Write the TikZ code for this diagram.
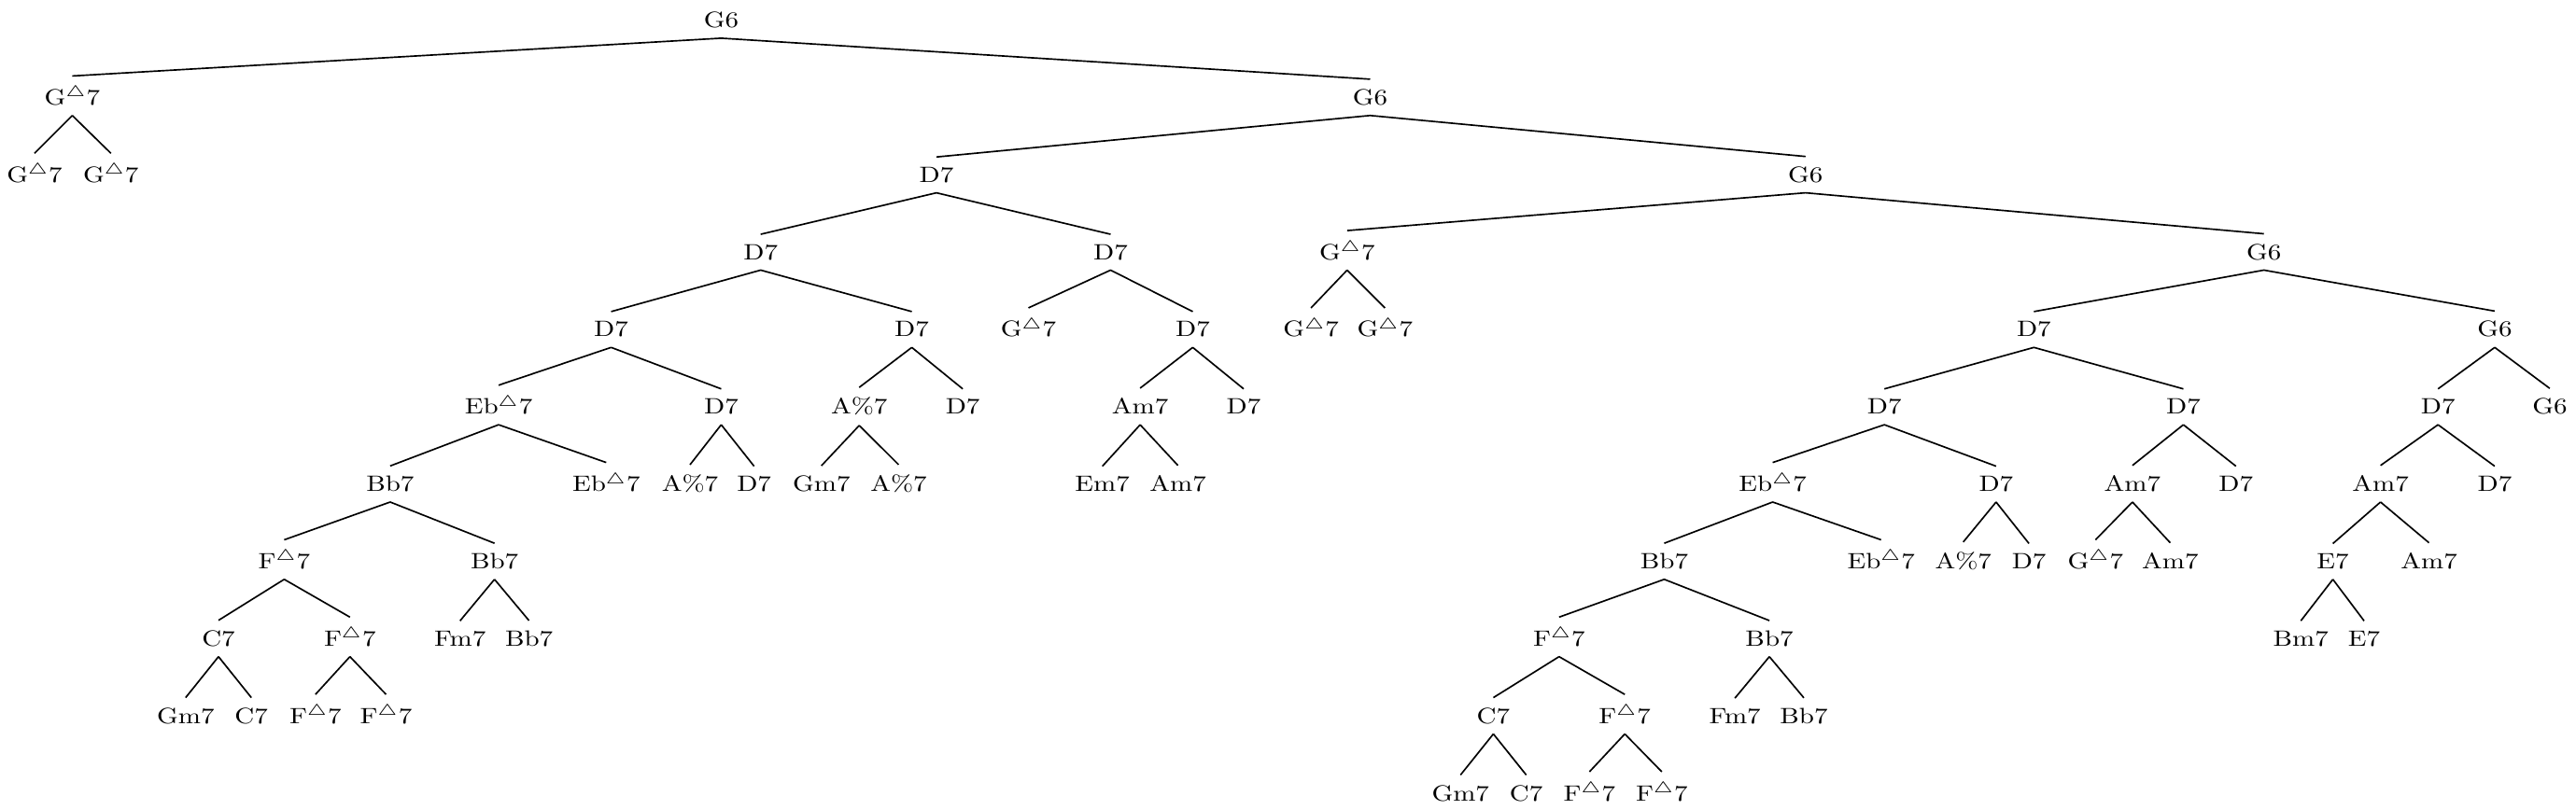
\documentclass[tikz,border=0pt]{standalone}
\usepackage{amsmath}
\usepackage{tikz}

\newcommand{\mtri}{\ensuremath{^{\triangle}}}

\begin{document}
\begin{tikzpicture}[x=0.74pt, y=-34.84pt, line width=0.7pt, every node/.style={anchor=base, xscale=1.22, inner ysep=4.2pt}]

                \useasboundingbox (0,-0.357) rectangle (1568,10.114);

                % Nodes
                \node at (439,0) (c0) {G6};
                \node at (44,1) (c1a) {G\mtri7};
                \node at (834,1) (c1b) {G6};
                \node at (21,2) (c2a) {G\mtri7};
                \node at (67.5,2) (c2b) {G\mtri7};
                \node at (570,2) (c2c) {D7};
                \node at (1099,2) (c2d) {G6};
                \node at (463,3) (c3a) {D7};
                \node at (676,3) (c3b) {D7};
                \node at (820,3) (c3c) {G\mtri7};
                \node at (1378,3) (c3d) {G6};
                \node at (372,4) (c4a) {D7};
                \node at (555,4) (c4b) {D7};
                \node at (626,4) (c4c) {G\mtri7};
                \node at (726,4) (c4d) {D7};
                \node at (798,4) (c4e) {G\mtri7};
                \node at (843,4) (c4f) {G\mtri7};
                \node at (1238,4) (c4g) {D7};
                \node at (1518.5,4) (c4h) {G6};
                \node at (303.5,5) (c5a) {Eb\mtri7};
                \node at (439,5) (c5b) {D7};
                \node at (523,5) (c5c) {A\%7};
                \node at (586,5) (c5d) {D7};
                \node at (694,5) (c5e) {Am7};
                \node at (757,5) (c5f) {D7};
                \node at (1147,5) (c5g) {D7};
                \node at (1329,5) (c5h) {D7};
                \node at (1484,5) (c5i) {D7};
                \node at (1552,5) (c5j) {G6};
                \node at (237.5,6) (c6a) {Bb7};
                \node at (369,6) (c6b) {Eb\mtri7};
                \node at (420,6) (c6c) {A\%7};
                \node at (459,6) (c6d) {D7};
                \node at (500,6) (c6e) {Gm7};
                \node at (547,6) (c6f) {A\%7};
                \node at (671,6) (c6g) {Em7};
                \node at (717,6) (c6h) {Am7};
                \node at (1079,6) (c6i) {Eb\mtri7};
                \node at (1215,6) (c6j) {D7};
                \node at (1298,6) (c6k) {Am7};
                \node at (1361,6) (c6l) {D7};
                \node at (1449,6) (c6m) {Am7};
                \node at (1518.5,6) (c6n) {D7};
                \node at (173,7) (c7a) {F\mtri7};
                \node at (301,7) (c7b) {Bb7};
                \node at (1013,7) (c7c) {Bb7};
                \node at (1145,7) (c7d) {Eb\mtri7};
                \node at (1195,7) (c7e) {A\%7};
                \node at (1235,7) (c7f) {D7};
                \node at (1275.5,7) (c7g) {G\mtri7};
                \node at (1321,7) (c7h) {Am7};
                \node at (1420,7) (c7i) {E7};
                \node at (1478.5,7) (c7j) {Am7};
                \node at (133,8) (c8a) {C7};
                \node at (213,8) (c8b) {F\mtri7};
                \node at (280,8) (c8c) {Fm7};
                \node at (322,8) (c8d) {Bb7};
                \node at (949,8) (c8e) {F\mtri7};
                \node at (1077,8) (c8f) {Bb7};
                \node at (1400.5,8) (c8g) {Bm7};
                \node at (1439,8) (c8h) {E7};
                \node at (113,9) (c9a) {Gm7};
                \node at (153,9) (c9b) {C7};
                \node at (192,9) (c9c) {F\mtri7};
                \node at (235,9) (c9d) {F\mtri7};
                \node at (909,9) (c9e) {C7};
                \node at (989,9) (c9f) {F\mtri7};
                \node at (1056,9) (c9g) {Fm7};
                \node at (1098,9) (c9h) {Bb7};
                \node at (889,10) (c10a) {Gm7};
                \node at (929,10) (c10b) {C7};
                \node at (967.5,10) (c10c) {F\mtri7};
                \node at (1011.5,10) (c10d) {F\mtri7};

                % Edges
                \draw (c0.south) -- (c1a.north) (c0.south) -- (c1b.north);
                \draw (c1a.south) -- (c2a.north) (c1a.south) -- (c2b.north);
                \draw (c1b.south) -- (c2c.north) (c1b.south) -- (c2d.north);
                \draw (c2c.south) -- (c3a.north) (c2c.south) -- (c3b.north);
                \draw (c2d.south) -- (c3c.north) (c2d.south) -- (c3d.north);
                \draw (c3a.south) -- (c4a.north) (c3a.south) -- (c4b.north);
                \draw (c3b.south) -- (c4c.north) (c3b.south) -- (c4d.north);
                \draw (c3c.south) -- (c4e.north) (c3c.south) -- (c4f.north);
                \draw (c3d.south) -- (c4g.north) (c3d.south) -- (c4h.north);
                \draw (c4a.south) -- (c5a.north) (c4a.south) -- (c5b.north);
                \draw (c4b.south) -- (c5c.north) (c4b.south) -- (c5d.north);
                \draw (c4d.south) -- (c5e.north) (c4d.south) -- (c5f.north);
                \draw (c4g.south) -- (c5g.north) (c4g.south) -- (c5h.north);
                \draw (c4h.south) -- (c5i.north) (c4h.south) -- (c5j.north);
                \draw (c5a.south) -- (c6a.north) (c5a.south) -- (c6b.north);
                \draw (c5b.south) -- (c6c.north) (c5b.south) -- (c6d.north);
                \draw (c5c.south) -- (c6e.north) (c5c.south) -- (c6f.north);
                \draw (c5e.south) -- (c6g.north) (c5e.south) -- (c6h.north);
                \draw (c5g.south) -- (c6i.north) (c5g.south) -- (c6j.north);
                \draw (c5h.south) -- (c6k.north) (c5h.south) -- (c6l.north);
                \draw (c5i.south) -- (c6m.north) (c5i.south) -- (c6n.north);
                \draw (c6a.south) -- (c7a.north) (c6a.south) -- (c7b.north);
                \draw (c6i.south) -- (c7c.north) (c6i.south) -- (c7d.north);
                \draw (c6j.south) -- (c7e.north) (c6j.south) -- (c7f.north);
                \draw (c6k.south) -- (c7g.north) (c6k.south) -- (c7h.north);
                \draw (c6m.south) -- (c7i.north) (c6m.south) -- (c7j.north);
                \draw (c7a.south) -- (c8a.north) (c7a.south) -- (c8b.north);
                \draw (c7b.south) -- (c8c.north) (c7b.south) -- (c8d.north);
                \draw (c7c.south) -- (c8e.north) (c7c.south) -- (c8f.north);
                \draw (c7i.south) -- (c8g.north) (c7i.south) -- (c8h.north);
                \draw (c8a.south) -- (c9a.north) (c8a.south) -- (c9b.north);
                \draw (c8b.south) -- (c9c.north) (c8b.south) -- (c9d.north);
                \draw (c8e.south) -- (c9e.north) (c8e.south) -- (c9f.north);
                \draw (c8f.south) -- (c9g.north) (c8f.south) -- (c9h.north);
                \draw (c9e.south) -- (c10a.north) (c9e.south) -- (c10b.north);
                \draw (c9f.south) -- (c10c.north) (c9f.south) -- (c10d.north);
            \end{tikzpicture}
\end{document}
